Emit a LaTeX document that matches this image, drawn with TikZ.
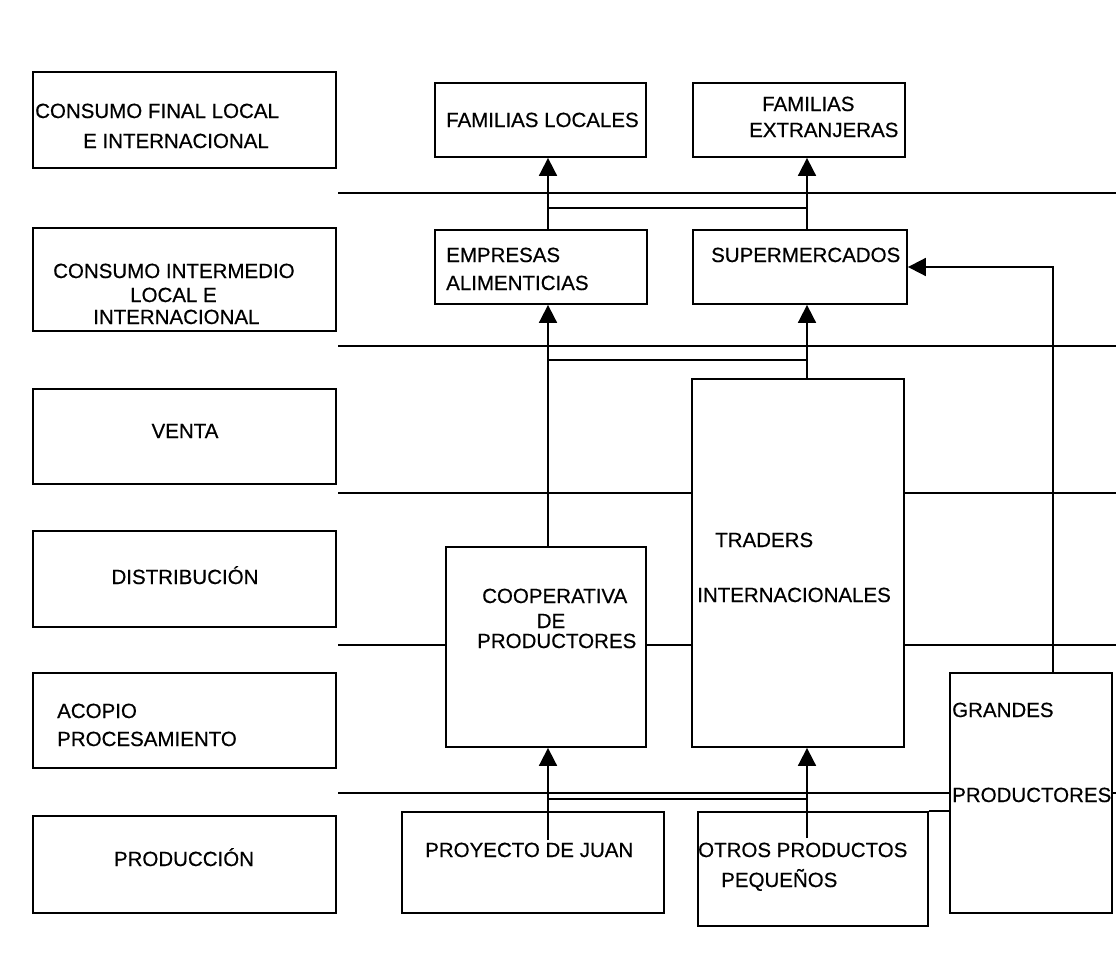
\documentclass[tikz,border=0pt]{standalone}
\usepackage{fontspec}
\setmainfont{Liberation Sans}
\newfontfamily\labelfont{Liberation Sans}[FakeBold=0.5]
\usetikzlibrary{arrows.meta,fit}
\begin{document}
\begin{tikzpicture}[x=1pt,y=-1pt,
  box/.style={draw, line width=1.8pt, fill=white, inner sep=0pt},
  lbl/.style={inner sep=0pt, font=\labelfont\fontsize{20.5}{24}\selectfont},
  band/.style={line width=1.8pt},
  link/.style={line width=1.8pt},
  flow/.style={line width=1.8pt, -{Triangle[length=18pt,width=18pt]}},
]
\useasboundingbox (0,0) rectangle (1116,966);

% horizontal separators between the stages
\coordinate (b1w) at (338,193); \coordinate (b1e) at (1116,193);
\coordinate (b2w) at (338,346); \coordinate (b2e) at (1116,346);
\coordinate (b3w) at (338,493); \coordinate (b3e) at (1116,493);
\coordinate (b4w) at (338,645); \coordinate (b4e) at (1116,645);
\coordinate (b5w) at (338,793); \coordinate (b5e) at (1116,793);
\draw[band] (b1w) -- (b1e);
\draw[band] (b2w) -- (b2e);
\draw[band] (b3w) -- (b3e);
\draw[band] (b4w) -- (b4e);
\draw[band] (b5w) -- (b5e);

% stage column
\node[box, fit={(33,72) (336,168)}]  (cfinal) {};
\node[box, fit={(33,228) (336,331)}] (cinter) {};
\node[box, fit={(33,389) (336,484)}] (venta) {};
\node[box, fit={(33,531) (336,627)}] (distr) {};
\node[box, fit={(33,673) (336,768)}] (acopio) {};
\node[box, fit={(33,816) (336,913)}] (prod) {};

% actors
\node[box, fit={(435,83) (646,157)}]   (famloc) {};
\node[box, fit={(693,83) (905,157)}]   (famext) {};
\node[box, fit={(435,230) (647,304)}]  (emp) {};
\node[box, fit={(693,230) (907,304)}]  (super) {};
\node[box, fit={(446,547) (646,747)}]  (coop) {};
\node[box, fit={(692,379) (904,747)}]  (traders) {};
\node[box, fit={(950,673) (1112,913)}] (grandes) {};
\node[box, fit={(402,812) (664,913)}]  (juan) {};
\node[box, fit={(698,812) (928,926)}]  (otros) {};

% stage labels
\node[lbl, anchor=base west] (tcf1) at (35,118)  {CONSUMO FINAL LOCAL};
\node[lbl, anchor=base west] (tcf2) at (83,148)  {E INTERNACIONAL};
\node[lbl, anchor=base west] (tci1) at (53,278)  {CONSUMO INTERMEDIO};
\node[lbl, anchor=base west] (tci2) at (130,302) {LOCAL E};
\node[lbl, anchor=base west] (tci3) at (93,324)  {INTERNACIONAL};
\node[lbl, anchor=base]      (tve)  at (185,438) {VENTA};
\node[lbl, anchor=base]      (tdi)  at (185,584) {DISTRIBUCIÓN};
\node[lbl, anchor=base west] (tac1) at (57,718)  {ACOPIO};
\node[lbl, anchor=base west] (tac2) at (57,746)  {PROCESAMIENTO};
\node[lbl, anchor=base]      (tpr)  at (184,866) {PRODUCCIÓN};

% actor labels
\node[lbl, anchor=base west] (tfl)  at (446,127) {FAMILIAS LOCALES};
\node[lbl, anchor=base west] (tfe1) at (762,111) {FAMILIAS};
\node[lbl, anchor=base west] (tfe2) at (749,137) {EXTRANJERAS};
\node[lbl, anchor=base west] (tem1) at (446,262) {EMPRESAS};
\node[lbl, anchor=base west] (tem2) at (446,290) {ALIMENTICIAS};
\node[lbl, anchor=base west] (tsu)  at (711,262) {SUPERMERCADOS};
\node[lbl, anchor=base west] (ttr1) at (715,547) {TRADERS};
\node[lbl, anchor=base west] (ttr2) at (697,602) {INTERNACIONALES};
\node[lbl, anchor=base west] (tco1) at (482,603) {COOPERATIVA};
\node[lbl, anchor=base]      (tco2) at (551,628) {DE};
\node[lbl, anchor=base west] (tco3) at (477,648) {PRODUCTORES};
\node[lbl, anchor=base west] (tgr1) at (952,717) {GRANDES};
\node[lbl, anchor=base west] (tgr2) at (952,802) {PRODUCTORES};
\node[lbl, anchor=base west] (tju)  at (425,857) {PROYECTO DE JUAN};
\node[lbl, anchor=base west] (tot1) at (698,857) {OTROS PRODUCTOS};
\node[lbl, anchor=base west] (tot2) at (721,887) {PEQUEÑOS};

% flows
\coordinate (colA) at (548,0);
\coordinate (colB) at (807,0);
\coordinate (colC) at (1053,0);
\coordinate (tie1) at (0,208);
\coordinate (tie2) at (0,360);
\coordinate (tie3) at (0,799);
\coordinate (juanfoot) at (548,840);
\coordinate (otrosfoot) at (807,838);

\draw[flow] (emp.north -| colA) -- (famloc.south -| colA);
\draw[flow] (super.north -| colB) -- (famext.south -| colB);
\draw[link] (tie1 -| colA) -- (tie1 -| colB);
\draw[flow] (coop.north -| colA) -- (emp.south -| colA);
\draw[flow] (traders.north -| colB) -- (super.south -| colB);
\draw[link] (tie2 -| colA) -- (tie2 -| colB);
\draw[flow] (grandes.north -| colC) |- (super.east);
\draw[flow] (juanfoot) -- (coop.south -| colA);
\draw[flow] (otrosfoot) -- (traders.south -| colB);
\draw[link] (tie3 -| colA) -- (tie3 -| colB);
\draw[link] (otros.north east) -- (otros.north east -| grandes.west);
\end{tikzpicture}
\end{document}
